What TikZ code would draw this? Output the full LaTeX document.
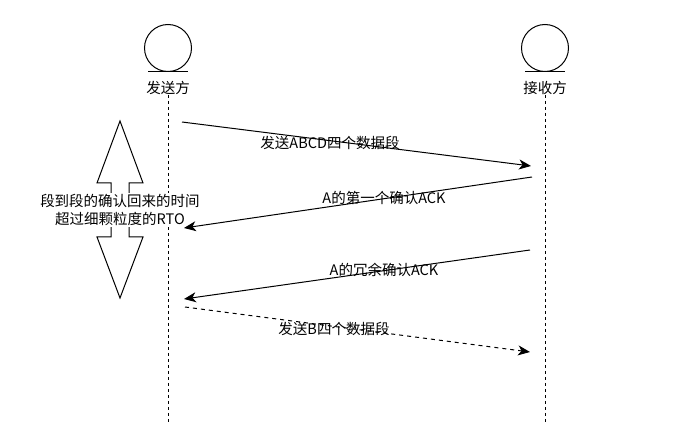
\documentclass[tikz,border=0pt]{standalone}
\usepackage{fontspec}
\setmainfont{Noto Sans CJK SC}
\usetikzlibrary{arrows.meta}
\begin{document}
\begin{tikzpicture}[x=1pt,y=-1pt,
  msg/.style={line width=1pt, -{Stealth[length=12pt,width=10pt,inset=3.5pt]}},
  life/.style={line width=1pt, dash pattern=on 3pt off 3pt},
  lbl/.style={font=\fontsize{14.5}{18}\selectfont, inner sep=0pt},
  actor/.style={circle, draw, line width=1pt, minimum size=47pt, inner sep=0pt}]
\useasboundingbox (0,0) rectangle (673,422);
% actors
\node[actor] (s) at (168,48) {};
\draw[line width=1pt] ([xshift=-20pt]s.south) -- ([xshift=20pt]s.south);
\node[lbl] (sl) at (168,88) {发送方};
\coordinate (se) at (168,422);
\draw[life] (sl.south) -- (se);
\node[actor] (r) at (545,48) {};
\draw[line width=1pt] ([xshift=-20pt]r.south) -- ([xshift=20pt]r.south);
\node[lbl] (rl) at (545,88) {接收方};
\coordinate (re) at (545,422);
\draw[life] (rl.south) -- (re);
% double arrow
\draw[line width=1pt, fill=white] (120,121) -- (143,183) -- (129,183) -- (129,237) -- (143,237) -- (120,298)
  -- (97,237) -- (111,237) -- (111,183) -- (97,183) -- cycle;
\node[lbl, fill=white, align=center, inner sep=1pt] (dt) at (120,210) {段到段的确认回来的时间\\超过细颗粒度的RTO};
% messages
\coordinate (m1a) at (182,122); \coordinate (m1b) at (531,166);
\draw[msg] (m1a) -- (m1b);
\node[lbl] (t1) at (330,143) {发送ABCD四个数据段};
\coordinate (m2a) at (532,177); \coordinate (m2b) at (184,228);
\draw[msg] (m2a) -- (m2b);
\node[lbl] (t2) at (384,198) {A的第一个确认ACK};
\coordinate (m3a) at (530,250); \coordinate (m3b) at (184,299);
\draw[msg] (m3a) -- (m3b);
\node[lbl] (t3) at (384,270) {A的冗余确认ACK};
\coordinate (m4a) at (185,307); \coordinate (m4b) at (530,352);
\draw[msg, dash pattern=on 4pt off 4pt] (m4a) -- (m4b);
\node[lbl] (t4) at (334,329) {发送B四个数据段};
\end{tikzpicture}
\end{document}
